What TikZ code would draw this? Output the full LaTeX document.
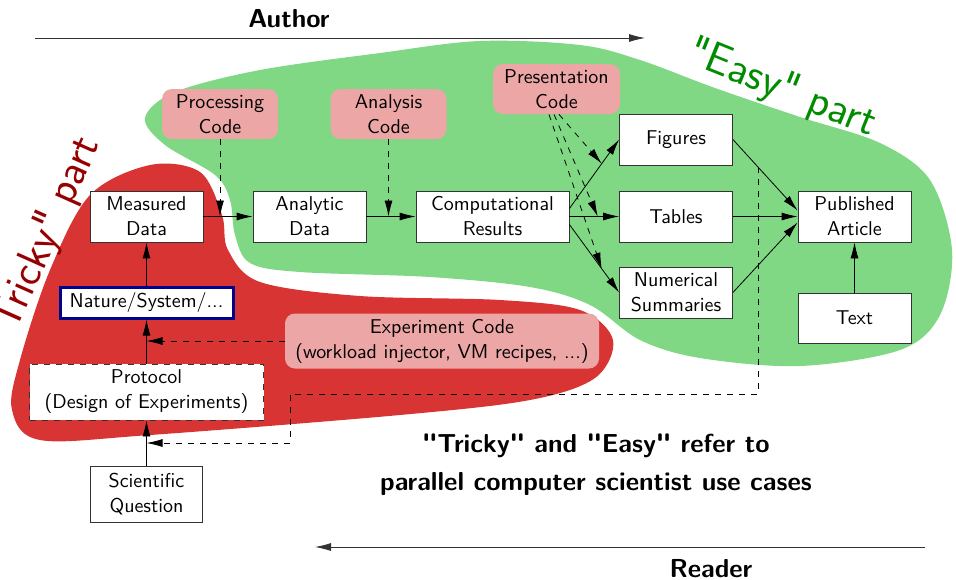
\documentclass[tikz,border=0pt]{standalone}
\usetikzlibrary{arrows.meta}
\definecolor{easygreen}{RGB}{128,216,132}
\definecolor{trickyred}{RGB}{217,52,52}
\definecolor{codepink}{RGB}{237,166,166}
\definecolor{easytext}{RGB}{0,140,0}
\definecolor{trickytext}{RGB}{150,0,0}
\definecolor{natureblue}{RGB}{0,0,140}
\tikzset{
  box/.style={draw=black!80, fill=white, thin, minimum width=56.5pt, minimum height=25.5pt, inner sep=2pt, align=center},
  code/.style={fill=codepink, rounded corners=5pt, minimum width=58pt, minimum height=25pt, inner sep=2pt, align=center},
  partlabel/.style={font=\sffamily\fontsize{22}{26}\selectfont},
  bigbold/.style={font=\sffamily\bfseries\fontsize{13}{19}\selectfont, align=center},
}
\newcommand{\qq}[1]{\textquotedbl#1\textquotedbl}
\begin{document}
\begin{tikzpicture}[x=0.5pt, y=-0.5pt, >={Latex[length=8pt,width=4pt]}, node distance=81.5pt,
    every node/.style={font=\sffamily\fontsize{10}{12.5}\selectfont}]
        \useasboundingbox (0,0) rectangle (956,579);

        % the two parts
        \fill[easygreen] plot[smooth cycle, tension=0.55] coordinates {(145,118) (175,92) (260,70) (380,53) (480,41) (580,45) (640,60) (715,88) (800,117) (880,143) (930,180) (952,250) (940,315) (900,350) (800,366) (700,358) (640,340) (590,305) (530,287) (430,277) (300,272) (250,263) (235,235) (230,200) (215,175) (165,145)};
        \fill[trickyred] plot[smooth cycle, tension=0.55] coordinates {(150,165) (200,172) (222,215) (228,250) (260,282) (360,296) (500,300) (580,310) (613,340) (595,378) (530,400) (400,415) (150,435) (40,440) (12,410) (20,360) (50,270) (90,195)};
        \node (tricky) [partlabel, text=trickytext, rotate=66] at (44,242) {\qq{Tricky} part};
        \node (easy) [partlabel, text=easytext, rotate=-22] at (782,89) {\qq{Easy} part};

        % code
        \node (proc) [code] at (220,114) {Processing\\Code};
        \node (ana) [code] at (388.5,114) {Analysis\\Code};
        \node (pres) [code, minimum width=63.5pt] at (556.5,89) {Presentation\\Code};
        \node (exp) [code, minimum width=157pt, minimum height=27.5pt] at (442,341) {Experiment Code\\(workload injector, VM recipes, ...)};

        % data
        \node (meas) [box] at (146.5,216.5) {Measured\\Data};
        \node (anl) [box, right of=meas] {Analytic\\Data};
        \node (comp) [box, minimum width=76.5pt, node distance=91.5pt, right of=anl] {Computational\\Results};
        \node (tab) [box, node distance=91.75pt, right of=comp] {Tables};
        \node (fig) [box, node distance=38.5pt, above of=tab] {Figures};
        \node (num) [box, node distance=38pt, below of=tab] {Numerical\\Summaries};
        \node (pub) [box, node distance=89.25pt, right of=tab] {Published\\Article};
        \node (txt) [box, minimum height=25pt, node distance=50.75pt, below of=pub] {Text};
        \node (nat) [box, draw=natureblue, line width=1.5pt, minimum width=86.5pt, minimum height=15.5pt, node distance=43pt, below of=meas] {Nature/System/...};
        \node (prot) [box, dashed, minimum width=117pt, minimum height=28pt, node distance=44.75pt, below of=nat] {Protocol\\(Design of Experiments)};
        \node (sci) [box, minimum width=56pt, minimum height=28pt, node distance=51pt, below of=prot] {Scientific\\Question};

        \draw[->] (meas) -- (anl);
        \draw[->] (anl) -- (comp);
        \draw[->] ([yshift=4pt]comp.east) -- coordinate[pos=0.65] (pf) (fig.west);
        \draw[->] (comp.east) -- coordinate[pos=0.57] (pt) (tab.west);
        \draw[->] ([yshift=-4pt]comp.east) -- coordinate[pos=0.65] (pn) (num.west);
        \draw[->] (fig.east) -- coordinate[pos=0.39] (tap) ([yshift=3pt]pub.west);
        \draw[->] (tab) -- (pub);
        \draw[->] (num.east) -- ([yshift=-3pt]pub.west);
        \draw[->] (txt) -- (pub);
        \draw[->] (nat) -- (meas);
        \draw[->] (prot) -- coordinate (ein) (nat);
        \draw[->] (sci) -- coordinate (qin) (prot);

        \draw[dashed, ->] (proc) -- (proc |- meas.east);
        \draw[dashed, ->] (ana) -- (ana |- anl.east);
        \draw[dashed, ->] ([xshift=-3.75pt]pres.south) -- (pn);
        \draw[dashed, ->] ([xshift=-1.25pt]pres.south) -- (pt);
        \draw[dashed, ->] ([xshift=1.25pt]pres.south) -- (pf);
        \draw[dashed, ->] (exp) -- (exp -| ein);
        \coordinate (bend) at (290,394);
        \draw[dashed, ->] (tap) |- (bend) |- (qin);

        % author and reader
        \coordinate (a0) at (35,38);
        \coordinate (a1) at (645,38);
        \draw[->, black!80] (a0) -- (a1);
        \node (author) [bigbold] at (289,19) {Author};
        \coordinate (r0) at (925,547);
        \coordinate (r1) at (315,547);
        \draw[->, black!80] (r0) -- (r1);
        \node (reader) [bigbold] at (711,569) {Reader};

        \node (note) [bigbold] at (596,465) {\qq{Tricky} and \qq{Easy} refer to\\parallel computer scientist use cases};
\end{tikzpicture}
\end{document}
